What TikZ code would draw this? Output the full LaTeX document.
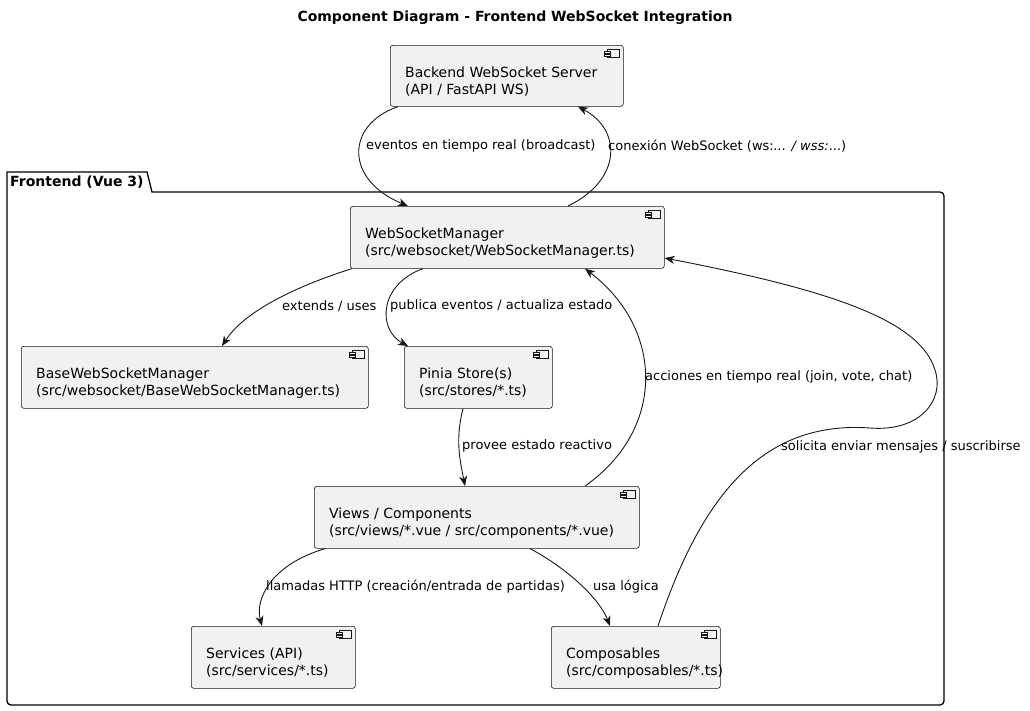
\documentclass[tikz,border=0pt]{standalone}
\usepackage{fontspec}
\setmainfont{DejaVu Sans}
\usetikzlibrary{arrows.meta,calc}
\definecolor{boxfill}{HTML}{F1F1F1}
\definecolor{ink}{HTML}{181818}
\tikzset{
 compshape/.style={draw=ink, fill=boxfill, line width=0.6pt, rounded corners=2.5pt, inner sep=0pt},
 comptext/.style={font=\fontsize{14}{17}\selectfont, align=left, inner sep=0pt, anchor=west, text=black},
 lbl/.style={font=\fontsize{13}{15}\selectfont, inner sep=0pt, anchor=west, text=black},
 conn/.style={draw=ink, line width=0.9pt, -{Stealth[length=10pt,width=8pt,inset=3pt]}},
 icon/.style={draw=ink, line width=0.5pt, fill=boxfill},
 pkgline/.style={draw=black, line width=1.3pt},
}
\newcommand\compbox[6]{%
 \node[compshape, minimum width=#4pt, minimum height=#5pt, anchor=north west] (#1) at (#2,#3) {};
 \node[comptext] (#1-t) at ($(#1.west)+(15,5.5)$) {#6};
 \draw[icon] ($(#1.north east)+(-16,4)$) rectangle ($(#1.north east)+(-4,12)$);
 \draw[icon] ($(#1.north east)+(-19,6)$) rectangle ($(#1.north east)+(-13,8)$);
 \draw[icon] ($(#1.north east)+(-19,9)$) rectangle ($(#1.north east)+(-13,11)$);
}
\begin{document}
\begin{tikzpicture}[x=1pt,y=-1pt]
\useasboundingbox (0,0) rectangle (1030,710);
\fill[white] (0,0) rectangle (1030,710);
\node[font=\bfseries\fontsize{14}{16}\selectfont] (title) at (515,18) {Component Diagram - Frontend WebSocket Integration};
% package
\draw[pkgline] (7,192) -- (7,172) -- (147,172) -- (152,192) [rounded corners=4pt] -- (944,192) -- (944,705) -- (7,705) [sharp corners] -- cycle;
\node[font=\bfseries\fontsize{14}{16}\selectfont, anchor=west, inner sep=0pt] (pkg) at (10,182) {Frontend (Vue 3)};
% components
\compbox{be}{390}{45}{233}{61}{Backend WebSocket Server\\(API / FastAPI WS)}
\compbox{wsm}{350}{206}{314}{62}{WebSocketManager\\(src/websocket/WebSocketManager.ts)}
\compbox{base}{21}{346}{347}{62}{BaseWebSocketManager\\(src/websocket/BaseWebSocketManager.ts)}
\compbox{pinia}{404}{346}{148}{62}{Pinia Store(s)\\(src/stores/*.ts)}
\compbox{views}{314}{486}{325}{62}{Views / Components\\(src/views/*.vue / src/components/*.vue)}
\compbox{svc}{191}{626}{164}{62}{Services (API)\\(src/services/*.ts)}
\compbox{comp}{551}{626}{169}{62}{Composables\\(src/composables/*.ts)}
% connectors
\draw[conn] ($(be.south west)+(8,0)$) .. controls (345,125) and (345,180) .. ($(wsm.north west)+(58,0)$);
\draw[conn] ($(wsm.north west)+(218,0)$) .. controls (622,180) and (622,130) .. ($(be.south west)+(188,0)$);
\draw[conn] ($(wsm.south west)+(2,0)$) .. controls (300,285) and (245,310) .. ($(base.north west)+(201,0)$);
\draw[conn] ($(wsm.south west)+(73,0)$) .. controls (378,285) and (378,330) .. ($(pinia.north west)+(4,0)$);
\draw[conn] ($(pinia.south west)+(59,0)$) .. controls (455,440) and (460,460) .. ($(views.north west)+(151,0)$);
\draw[conn] ($(views.north west)+(271,0)$) .. controls (665,430) and (665,330) .. ($(wsm.south west)+(235,0)$);
\draw[conn] ($(comp.north west)+(107,0)$) .. controls (700,500) and (760,420) .. (870,428) .. controls (920,432) and (945,400) .. (935,370) .. controls (920,320) and (830,290) .. ($(wsm.north east)+(0,52)$);
\draw[conn] ($(views.south west)+(11,0)$) .. controls (270,565) and (255,600) .. ($(svc.north west)+(71,0)$);
\draw[conn] ($(views.south west)+(216,0)$) .. controls (570,570) and (600,600) .. ($(comp.north west)+(59,0)$);
% labels
\node[lbl] (l1) at (366,146) {eventos en tiempo real (broadcast)};
\node[lbl] (l2) at (608,146) {conexión WebSocket (ws:\textit{... / wss:}...)};
\node[lbl] (l3) at (282,306) {extends / uses};
\node[lbl] (l4) at (390,306) {publica eventos / actualiza estado};
\node[lbl] (l5) at (462,446) {provee estado reactivo};
\node[lbl] (l6) at (645,377) {acciones en tiempo real (join, vote, chat)};
\node[lbl] (l7) at (781,447) {solicita enviar mensajes / suscribirse};
\node[lbl] (l8) at (266,587) {llamadas HTTP (creación/entrada de partidas)};
\node[lbl] (l9) at (593,587) {usa lógica};
\end{tikzpicture}
\end{document}
